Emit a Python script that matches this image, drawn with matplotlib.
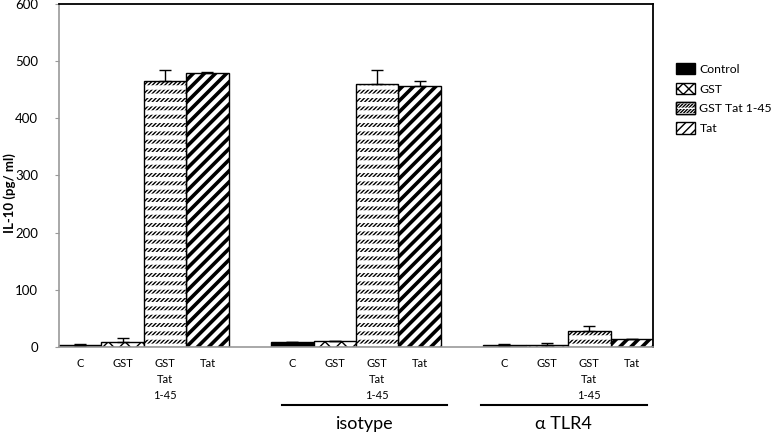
import numpy as np
import matplotlib
matplotlib.use("Agg")
import matplotlib.pyplot as plt
from matplotlib.patches import Patch
from matplotlib.legend_handler import HandlerTuple

# --- DATA ---
groups = ["", "isotype", "\u03b1 TLR4"]
treatments = ["Control", "GST", "GST Tat 1-45", "Tat"]
tick_names = ["C", "GST", "GST\nTat\n1-45", "Tat"]

control_vals = [3, 8, 3]
gst_vals = [9, 10, 4]
gsttat_vals = [465, 460, 27]
tat_vals = [479, 456, 14]

control_err = [2, 1, 2]
gst_err = [7, 1, 2]
gsttat_err = [20, 24, 10]
tat_err = [2, 9, 0]

plt.rcParams['font.family'] = ['Lato', 'DejaVu Sans']

fig = plt.figure(figsize=(7.76, 4.33), dpi=100)
ax = fig.add_axes([0.076, 0.199, 0.7655, 0.792])

values = [control_vals, gst_vals, gsttat_vals, tat_vals]
errors = [control_err, gst_err, gsttat_err, tat_err]
GROUP_STEP = 5


def set_hlw(patches, lw):
    for p in patches:
        if hasattr(p, "set_hatch_linewidth"):
            p.set_hatch_linewidth(lw)


for i, (vals, errs) in enumerate(zip(values, errors)):
    x = np.arange(len(vals)) * GROUP_STEP + i + 0.5
    if i == 0:
        ax.bar(x, vals, width=1, color='black', edgecolor='black', lw=1, zorder=2)
    elif i == 1:
        with plt.rc_context({'hatch.linewidth': 1.0}):
            b = ax.bar(x, vals, width=1, color='white', edgecolor='black',
                       hatch='xx', lw=1, zorder=2)
        set_hlw(b, 1.0)
    elif i == 2:
        # rows of short slashes: dense diagonals broken up by white bands
        with plt.rc_context({'hatch.linewidth': 1.0}):
            b = ax.bar(x, vals, width=1, color='white', edgecolor='black',
                       hatch='////////', lw=0, zorder=2)
        set_hlw(b, 1.0)
        with plt.rc_context({'hatch.linewidth': 3.2}):
            b2 = ax.bar(x, vals, width=1, color='none', edgecolor='white',
                        hatch='--', lw=0, zorder=2.1)
        set_hlw(b2, 3.2)
        ax.bar(x, vals, width=1, color='none', edgecolor='black', lw=1, zorder=2.2)
    else:
        with plt.rc_context({'hatch.linewidth': 2.6}):
            b = ax.bar(x, vals, width=1, color='white', edgecolor='black',
                       hatch='///', lw=1, zorder=2)
        set_hlw(b, 2.6)
    ax.errorbar(x, vals, yerr=[np.zeros(len(errs)), errs], fmt='none',
                ecolor='black', elinewidth=1, capsize=4.5, capthick=1, zorder=3)

ax.set_xlim(0, 14)
ax.set_ylim(0, 600)
ax.set_yticks(range(0, 601, 100))
ax.tick_params(axis='y', labelsize=9.5, length=3, color='#999999', pad=12)
ax.set_xticks([])
for s in ['left', 'bottom']:
    ax.spines[s].set_color('#999999')
    ax.spines[s].set_linewidth(1.2)
for s in ['top', 'right']:
    ax.spines[s].set_color('black')
    ax.spines[s].set_linewidth(1.3)

# category labels under each bar
trans = ax.get_xaxis_transform()
for g in range(len(groups)):
    for i, name in enumerate(tick_names):
        ax.text(g * GROUP_STEP + i + 0.5, -0.033, name, ha='center', va='top',
                fontsize=8, linespacing=1.55, transform=trans)

# group underlines and labels
group_lines = [(5.25, 9.15), (9.95, 13.85)]
for (x0, x1), label in zip(group_lines, groups[1:]):
    ax.plot([x0, x1], [-0.171, -0.171], color='black', lw=1.5,
            transform=trans, clip_on=False)
    ax.text((x0 + x1) / 2, -0.224, label, ha='center', va='center', fontsize=13,
            transform=trans)

fig.text(0.012, 0.555, "IL-10 (pg/ ml)", rotation=90, ha='center', va='center',
         fontsize=9.5, fontweight='bold')

with plt.rc_context({'hatch.linewidth': 1.0}):
    h_ctrl = Patch(facecolor='black', edgecolor='black')
    h_gst = Patch(facecolor='white', edgecolor='black', hatch='xxx')
    h_gt_a = Patch(facecolor='white', edgecolor='black', hatch='//////////')
with plt.rc_context({'hatch.linewidth': 2.0}):
    h_gt_b = Patch(facecolor='none', edgecolor='white', hatch='---', lw=0)
    h_gt_c = Patch(facecolor='none', edgecolor='black', lw=1)
    h_tat = Patch(facecolor='white', edgecolor='black', hatch='////')

handles = [h_ctrl, h_gst, (h_gt_a, h_gt_b, h_gt_c), h_tat]
with plt.rc_context({'hatch.linewidth': 1.0}):
    leg = fig.legend(handles, treatments, loc='upper left',
                     bbox_to_anchor=(0.865, 0.866),
                     frameon=False, fontsize=8.8, handlelength=1.55, handleheight=1.05,
                     labelspacing=0.65, handletextpad=0.35, borderaxespad=0,
                     handler_map={tuple: HandlerTuple(ndivide=1, pad=0)})

fig.savefig("out.png", dpi=100)
